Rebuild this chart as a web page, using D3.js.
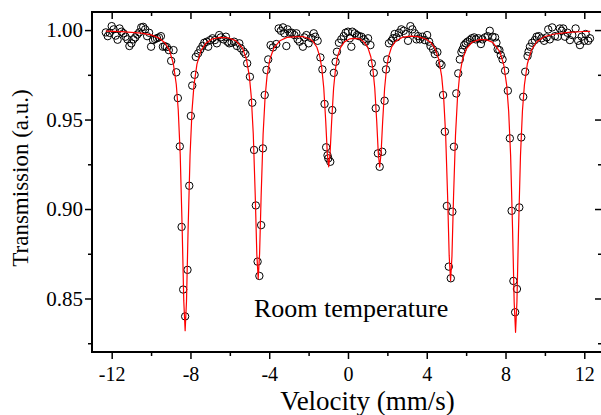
<!DOCTYPE html>
<html>
<head>
<meta charset="utf-8">
<script src="https://cdn.jsdelivr.net/npm/d3@7"></script>
<style>
  html, body { margin: 0; padding: 0; background: #fff; }
  svg { display: block; }
</style>
</head>
<body>
<svg id="chart" width="601" height="415"></svg>
<script>
// Measured Mössbauer spectrum: [velocity (mm/s), relative transmission]
const measured = [
  [-12.3,0.9987],[-12.2,0.9966],[-12.1,0.9984],[-12.0,1.0022],[-11.9,1.0004],[-11.8,0.9969],
  [-11.7,0.9946],[-11.6,1.0009],[-11.5,0.9991],[-11.4,0.9982],[-11.3,0.9963],[-11.2,0.9948],
  [-11.1,0.9911],[-11.0,0.9926],[-10.9,0.9948],[-10.8,0.9959],[-10.7,0.9975],[-10.6,0.9987],
  [-10.5,1.0015],[-10.4,1.0018],[-10.3,1.0004],[-10.2,0.9966],[-10.1,0.9985],[-10.0,0.9907],
  [-9.9,0.9944],[-9.8,0.9950],[-9.7,0.9955],[-9.6,0.9959],[-9.5,0.9966],[-9.4,0.9907],
  [-9.3,0.9910],[-9.2,0.9905],[-9.1,0.9888],[-8.98,0.9828],[-8.86,0.9888],[-8.72,0.9764],
  [-8.64,0.9620],[-8.54,0.9350],[-8.45,0.8900],[-8.37,0.8550],[-8.27,0.8400],[-8.15,0.8660],
  [-8.06,0.9130],[-7.98,0.9520],[-7.91,0.9690],[-7.79,0.9750],[-7.73,0.9850],[-7.61,0.9870],
  [-7.50,0.9892],[-7.39,0.9911],[-7.30,0.9929],[-7.17,0.9935],[-7.10,0.9907],[-7.00,0.9944],
  [-6.88,0.9954],[-6.76,0.9944],[-6.66,0.9926],[-6.54,0.9972],[-6.46,0.9959],[-6.32,0.9948],
  [-6.20,0.9963],[-6.12,0.9935],[-6.03,0.9926],[-5.91,0.9929],[-5.78,0.9935],[-5.64,0.9911],
  [-5.52,0.9926],[-5.44,0.9898],[-5.30,0.9879],[-5.21,0.9866],[-5.12,0.9814],[-4.98,0.9739],
  [-4.86,0.9594],[-4.77,0.9330],[-4.68,0.9020],[-4.59,0.8706],[-4.50,0.8626],[-4.41,0.8910],
  [-4.32,0.9339],[-4.23,0.9637],[-4.14,0.9777],[-4.05,0.9836],[-3.93,0.9916],[-3.81,0.9903],
  [-3.64,0.9922],[-3.52,1.0009],[-3.41,0.9996],[-3.30,1.0015],[-3.23,0.9982],[-3.13,0.9911],
  [-3.07,1.0004],[-2.96,0.9985],[-2.85,0.9985],[-2.72,0.9972],[-2.62,0.9982],[-2.56,0.9948],
  [-2.46,0.9935],[-2.29,0.9907],[-2.22,0.9959],[-2.11,0.9972],[-2.00,0.9926],[-1.87,0.9955],
  [-1.74,0.9982],[-1.66,0.9963],[-1.54,0.9940],[-1.40,0.9847],[-1.30,0.9780],[-1.19,0.9587],
  [-1.11,0.9345],[-1.04,0.9300],[-1.00,0.9283],[-0.90,0.9264],[-0.80,0.9553],[-0.72,0.9761],
  [-0.63,0.9823],[-0.56,0.9879],[-0.46,0.9929],[-0.34,0.9948],[-0.22,0.9966],[-0.12,0.9985],
  [0.00,0.9991],[0.09,0.9954],[0.17,0.9907],[0.22,0.9991],[0.34,0.9982],[0.46,0.9972],
  [0.56,0.9966],[0.68,0.9963],[0.80,0.9948],[0.90,0.9935],[1.02,0.9954],[1.14,0.9916],
  [1.21,0.9814],[1.31,0.9761],[1.41,0.9563],[1.52,0.9311],[1.61,0.9236],[1.74,0.9320],
  [1.86,0.9605],[1.93,0.9780],[1.99,0.9836],[2.08,0.9926],[2.21,0.9940],[2.29,0.9954],
  [2.37,0.9978],[2.46,0.9959],[2.59,0.9985],[2.71,1.0004],[2.83,0.9996],[2.93,0.9978],
  [3.05,0.9940],[3.17,1.0022],[3.27,1.0004],[3.39,0.9982],[3.48,0.9948],[3.56,0.9966],
  [3.65,0.9948],[3.78,0.9963],[3.90,0.9944],[4.02,0.9972],[4.12,0.9935],[4.19,0.9911],
  [4.32,0.9892],[4.41,0.9866],[4.54,0.9877],[4.66,0.9814],[4.75,0.9805],[4.83,0.9637],
  [4.92,0.9432],[5.02,0.9017],[5.12,0.8678],[5.22,0.8613],[5.30,0.8985],[5.38,0.9348],
  [5.50,0.9646],[5.60,0.9758],[5.68,0.9836],[5.76,0.9877],[5.82,0.9892],[5.90,0.9916],
  [5.98,0.9926],[6.07,0.9935],[6.19,0.9944],[6.29,0.9954],[6.41,0.9959],[6.49,0.9948],
  [6.63,0.9954],[6.75,0.9922],[6.83,0.9948],[6.96,0.9959],[7.09,0.9966],[7.20,0.9996],
  [7.34,0.9963],[7.47,0.9959],[7.54,0.9929],[7.60,0.9892],[7.69,0.9888],[7.76,0.9860],
  [7.85,0.9836],[7.98,0.9773],[8.12,0.9661],[8.22,0.9395],[8.31,0.8990],[8.40,0.8598],
  [8.49,0.8423],[8.58,0.8553],[8.70,0.9009],[8.80,0.9400],[8.90,0.9627],[9.00,0.9767],
  [9.12,0.9855],[9.17,0.9879],[9.24,0.9907],[9.35,0.9929],[9.49,0.9944],[9.58,0.9963],
  [9.69,0.9966],[9.83,0.9954],[9.96,0.9940],[10.09,0.9959],[10.17,1.0004],[10.25,0.9948],
  [10.37,1.0015],[10.51,0.9966],[10.65,0.9963],[10.76,1.0009],[10.85,0.9996],[10.93,1.0009],
  [11.02,0.9963],[11.15,0.9985],[11.27,0.9944],[11.39,0.9972],[11.56,1.0009],[11.69,0.9940],
  [11.78,0.9916],[11.87,0.9963],[12.00,0.9940],[12.07,0.9978],[12.20,0.9940],[12.29,0.9954]
];

// Fitted sextet curve: [velocity (mm/s), transmission]
const fitted = [
  [-12.3,0.9994],[-11.5,0.9991],[-10.5,0.9983],[-10.0,0.9973],[-9.6,0.9956],[-9.3,0.9929],
  [-9.07,0.9888],[-8.87,0.9813],[-8.72,0.9696],[-8.62,0.9553],[-8.52,0.9303],[-8.42,0.8887],
  [-8.34,0.8488],[-8.27,0.8320],[-8.20,0.8487],[-8.12,0.8886],[-8.02,0.9302],[-7.92,0.9551],
  [-7.82,0.9694],[-7.67,0.9810],[-7.47,0.9884],[-7.2,0.9928],[-6.9,0.9950],[-6.5,0.9959],
  [-6.1,0.9957],[-5.7,0.9941],[-5.36,0.9900],[-5.16,0.9839],[-5.01,0.9743],[-4.91,0.9625],
  [-4.81,0.9419],[-4.71,0.9076],[-4.63,0.8748],[-4.56,0.8610],[-4.49,0.8748],[-4.41,0.9076],
  [-4.31,0.9419],[-4.21,0.9625],[-4.11,0.9744],[-3.96,0.9840],[-3.76,0.9901],[-3.46,0.9940],
  [-3.1,0.9959],[-2.7,0.9962],[-2.3,0.9964],[-1.98,0.9953],[-1.78,0.9937],[-1.58,0.9904],
  [-1.43,0.9852],[-1.33,0.9787],[-1.23,0.9676],[-1.13,0.9489],[-1.05,0.9311],[-0.98,0.9236],
  [-0.91,0.9311],[-0.83,0.9489],[-0.73,0.9676],[-0.63,0.9787],[-0.53,0.9852],[-0.38,0.9902],
  [-0.18,0.9934],[0.1,0.9951],[0.32,0.9954],[0.6,0.9951],[0.81,0.9934],[1.01,0.9902],
  [1.16,0.9851],[1.26,0.9787],[1.36,0.9675],[1.46,0.9488],[1.54,0.9310],[1.61,0.9235],
  [1.68,0.9310],[1.76,0.9488],[1.86,0.9675],[1.96,0.9788],[2.06,0.9852],[2.21,0.9904],
  [2.41,0.9937],[2.75,0.9959],[3.15,0.9966],[3.55,0.9963],[3.95,0.9950],[4.21,0.9930],
  [4.41,0.9899],[4.61,0.9837],[4.76,0.9740],[4.86,0.9621],[4.96,0.9414],[5.06,0.9068],
  [5.14,0.8738],[5.21,0.8599],[5.28,0.8736],[5.36,0.9066],[5.46,0.9412],[5.56,0.9619],
  [5.66,0.9738],[5.81,0.9834],[6.01,0.9895],[6.3,0.9932],[6.7,0.9948],[7.05,0.9945],
  [7.35,0.9931],[7.71,0.9880],[7.91,0.9806],[8.06,0.9691],[8.16,0.9546],[8.26,0.9296],
  [8.36,0.8878],[8.44,0.8479],[8.51,0.8311],[8.58,0.8482],[8.66,0.8881],[8.76,0.9299],
  [8.86,0.9549],[8.96,0.9694],[9.11,0.9812],[9.31,0.9887],[9.6,0.9936],[10.0,0.9964],
  [10.5,0.9978],[11.2,0.9987],[12.0,0.9992],[12.3,0.9993]
];

const velocityTicks = [-12, -8, -4, 0, 4, 8, 12];
const velocityMinorTicks = [-10, -6, -2, 2, 6, 10];
const transmissionTicks = [0.85, 0.90, 0.95, 1.00];
const transmissionMinorTicks = [0.825, 0.875, 0.925, 0.975];

const serif = '"Liberation Serif", "Times New Roman", Times, serif';
const svg = d3.select('#chart');

const plot = { left: 92, right: 602, top: 12, bottom: 352 };
const x = d3.scaleLinear().domain([-13.0, 12.9]).range([plot.left, plot.right]);
const y = d3.scaleLinear().domain([0.8201, 1.0101]).range([plot.bottom, plot.top]);

function styleAxis(g, fontSize) {
  g.select('.domain').remove();
  g.selectAll('.tick line').attr('stroke', '#000').attr('stroke-width', 1.5);
  g.selectAll('.tick text')
    .attr('fill', '#000')
    .style('font-family', serif)
    .style('font-size', fontSize + 'px');
}

// bottom axis (outward ticks, labelled)
svg.append('g')
  .attr('transform', `translate(0,${plot.bottom})`)
  .call(d3.axisBottom(x).tickValues(velocityTicks).tickSize(7).tickPadding(7.5)
        .tickFormat(d => String(d)))
  .call(g => styleAxis(g, 20));
svg.append('g')
  .attr('transform', `translate(0,${plot.bottom})`)
  .call(d3.axisBottom(x).tickValues(velocityMinorTicks).tickSize(4).tickFormat(''))
  .call(g => styleAxis(g, 20));

// top axis (inward ticks)
svg.append('g')
  .attr('transform', `translate(0,${plot.top})`)
  .call(d3.axisTop(x).tickValues(velocityTicks).tickSize(-7).tickFormat(''))
  .call(g => styleAxis(g, 20));
svg.append('g')
  .attr('transform', `translate(0,${plot.top})`)
  .call(d3.axisTop(x).tickValues(velocityMinorTicks).tickSize(-4).tickFormat(''))
  .call(g => styleAxis(g, 20));

// left axis (outward ticks, labelled)
svg.append('g')
  .attr('transform', `translate(${plot.left},0)`)
  .call(d3.axisLeft(y).tickValues(transmissionTicks).tickSize(7).tickPadding(2)
        .tickFormat(d3.format('.2f')))
  .call(g => styleAxis(g, 21));
svg.append('g')
  .attr('transform', `translate(${plot.left},0)`)
  .call(d3.axisLeft(y).tickValues(transmissionMinorTicks).tickSize(4).tickFormat(''))
  .call(g => styleAxis(g, 21));

// right axis (inward ticks)
svg.append('g')
  .attr('transform', `translate(${plot.right},0)`)
  .call(d3.axisRight(y).tickValues(transmissionTicks).tickSize(-7).tickFormat(''))
  .call(g => styleAxis(g, 21));
svg.append('g')
  .attr('transform', `translate(${plot.right},0)`)
  .call(d3.axisRight(y).tickValues(transmissionMinorTicks).tickSize(-4).tickFormat(''))
  .call(g => styleAxis(g, 21));

// frame
svg.append('rect')
  .attr('x', plot.left).attr('y', plot.top)
  .attr('width', plot.right - plot.left).attr('height', plot.bottom - plot.top)
  .attr('fill', 'none').attr('stroke', '#000').attr('stroke-width', 2);

// measured points
svg.append('g')
  .selectAll('circle')
  .data(measured)
  .join('circle')
  .attr('cx', d => x(d[0]))
  .attr('cy', d => y(d[1]))
  .attr('r', 3.7)
  .attr('fill', 'none')
  .attr('stroke', '#000')
  .attr('stroke-width', 1);

// fitted curve
svg.append('path')
  .datum(fitted)
  .attr('d', d3.line().x(d => x(d[0])).y(d => y(d[1])))
  .attr('fill', 'none')
  .attr('stroke', '#ff0000')
  .attr('stroke-width', 1.2)
  .attr('stroke-linejoin', 'round');

// annotation
svg.append('text')
  .attr('x', 254).attr('y', 316.5)
  .style('font-family', serif).style('font-size', '26px')
  .attr('fill', '#000')
  .text('Room temperature');

// axis titles
svg.append('text')
  .attr('x', 367.5).attr('y', 410)
  .attr('text-anchor', 'middle')
  .style('font-family', serif).style('font-size', '27px')
  .attr('fill', '#000')
  .text('Velocity (mm/s)');

svg.append('text')
  .attr('transform', 'translate(28,178) rotate(-90)')
  .attr('text-anchor', 'middle')
  .style('font-family', serif).style('font-size', '23px')
  .attr('fill', '#000')
  .text('Transmission (a.u.)');
</script>
</body>
</html>
